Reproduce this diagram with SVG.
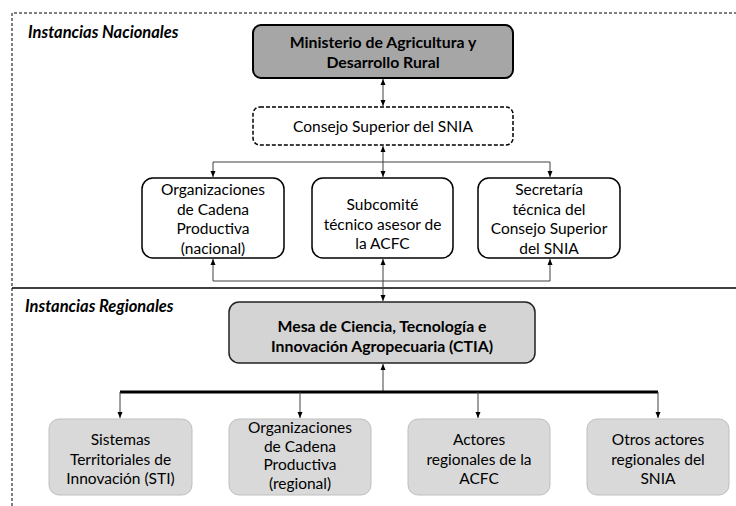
<svg xmlns="http://www.w3.org/2000/svg" width="736" height="506" viewBox="0 0 736 506">
<style>
text{font-family:Lato,"Open Sans","Liberation Sans",sans-serif;fill:#000;text-anchor:middle}
.t{font-size:15.5px}
.b{font-size:15.8px;font-weight:bold}
.sec{font-size:16.5px;font-weight:bold;font-style:italic;text-anchor:start}
.w{fill:#fff;stroke:#000;stroke-width:1.5}
.g{fill:#d9d9d9;stroke:#bfbfbf;stroke-width:1}
.c{fill:none;stroke:#404040;stroke-width:1}
</style>
<defs>
<marker id="ah" markerUnits="userSpaceOnUse" markerWidth="6" markerHeight="6" viewBox="0 0 6 6" refX="6" refY="3" orient="auto-start-reverse">
<path d="M0,0.5 L6,3 L0,5.5 Z" fill="#000"/>
</marker>
</defs>
<g id="frame">
<path d="M12,506 V13 H736" fill="none" stroke="#000" stroke-width="1" stroke-dasharray="3,2"/>
<line x1="12" y1="288" x2="736" y2="288" stroke="#000" stroke-width="1.5"/>
<text class="sec" x="28" y="38">Instancias Nacionales</text>
<text class="sec" x="25" y="312">Instancias Regionales</text>
</g>
<g id="connectors">
<line class="c" x1="383" y1="79" x2="383" y2="106" marker-start="url(#ah)" marker-end="url(#ah)"/>
<line class="c" x1="383" y1="146" x2="383" y2="177" marker-start="url(#ah)" marker-end="url(#ah)"/>
<path class="c" d="M213,177 V162 H550 V177" marker-start="url(#ah)" marker-end="url(#ah)"/>
<path class="c" d="M213,259 V281 H550 V259" marker-start="url(#ah)" marker-end="url(#ah)"/>
<line class="c" x1="383" y1="259" x2="383" y2="301" marker-start="url(#ah)" marker-end="url(#ah)"/>
<line class="c" x1="383" y1="392" x2="383" y2="364" marker-end="url(#ah)"/>
<line x1="120" y1="392" x2="658" y2="392" stroke="#000" stroke-width="3"/>
<line class="c" x1="120" y1="392" x2="120" y2="418" marker-end="url(#ah)"/>
<line class="c" x1="300" y1="392" x2="300" y2="418" marker-end="url(#ah)"/>
<line class="c" x1="478" y1="392" x2="478" y2="418" marker-end="url(#ah)"/>
<line class="c" x1="658" y1="392" x2="658" y2="418" marker-end="url(#ah)"/>
</g>
<g id="ministerio">
<rect x="253" y="25" width="260" height="53" rx="8" fill="#a6a6a6" stroke="#000" stroke-width="2"/>
<text class="b" x="383" y="48">Ministerio de Agricultura y</text>
<text class="b" x="383" y="68">Desarrollo Rural</text>
</g>
<g id="consejo">
<rect x="253" y="107" width="260" height="38" rx="7" fill="#fff" stroke="#000" stroke-width="1.5" stroke-dasharray="4,2"/>
<text class="t" x="383" y="132">Consejo Superior del SNIA</text>
</g>
<g id="org-nacional">
<rect class="w" x="142" y="178" width="142" height="80" rx="11"/>
<text class="t" x="213" y="195">Organizaciones</text>
<text class="t" x="213" y="214.5">de Cadena</text>
<text class="t" x="213" y="234">Productiva</text>
<text class="t" x="213" y="253.5">(nacional)</text>
</g>
<g id="subcomite">
<rect class="w" x="312" y="178" width="141" height="80" rx="11"/>
<text class="t" x="382.5" y="210">Subcomité</text>
<text class="t" x="382.5" y="229.5">técnico asesor de</text>
<text class="t" x="382.5" y="249">la ACFC</text>
</g>
<g id="secretaria">
<rect class="w" x="478" y="178" width="142" height="80" rx="11"/>
<text class="t" x="549" y="195">Secretaría</text>
<text class="t" x="549" y="214.5">técnica del</text>
<text class="t" x="549" y="234">Consejo Superior</text>
<text class="t" x="549" y="253.5">del SNIA</text>
</g>
<g id="mesa">
<rect x="229" y="302" width="306" height="61" rx="10" fill="#d4d4d4" stroke="#222" stroke-width="1.5"/>
<text class="b" x="382" y="332">Mesa de Ciencia, Tecnología e</text>
<text class="b" x="382" y="352">Innovación Agropecuaria (CTIA)</text>
</g>
<g id="sti">
<rect class="g" x="49" y="419" width="143" height="76" rx="10"/>
<text class="t" x="120.5" y="445">Sistemas</text>
<text class="t" x="120.5" y="464.5">Territoriales de</text>
<text class="t" x="120.5" y="484">Innovación (STI)</text>
</g>
<g id="org-regional">
<rect class="g" x="229" y="419" width="142" height="76" rx="10"/>
<text class="t" x="300" y="433">Organizaciones</text>
<text class="t" x="300" y="451.5">de Cadena</text>
<text class="t" x="300" y="470">Productiva</text>
<text class="t" x="300" y="488.5">(regional)</text>
</g>
<g id="actores">
<rect class="g" x="408" y="419" width="142" height="76" rx="10"/>
<text class="t" x="479" y="445">Actores</text>
<text class="t" x="479" y="464.5">regionales de la</text>
<text class="t" x="479" y="484">ACFC</text>
</g>
<g id="otros">
<rect class="g" x="587" y="419" width="142" height="76" rx="10"/>
<text class="t" x="658" y="445">Otros actores</text>
<text class="t" x="658" y="464.5">regionales del</text>
<text class="t" x="658" y="484">SNIA</text>
</g>
</svg>
